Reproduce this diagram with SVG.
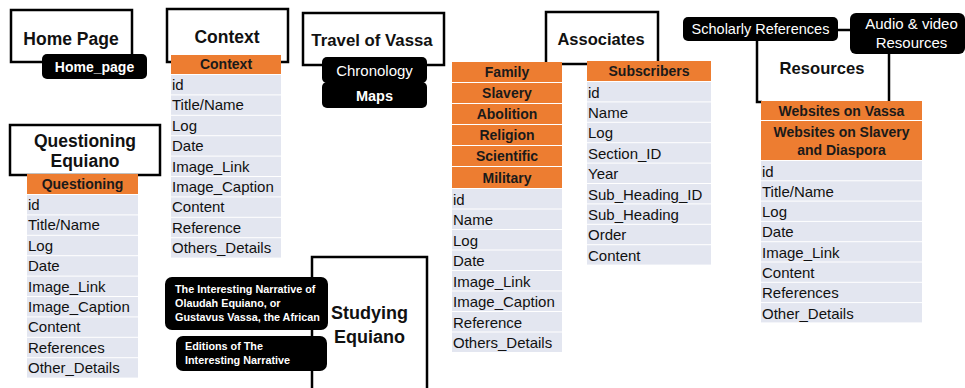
<svg xmlns="http://www.w3.org/2000/svg" width="965" height="388" viewBox="0 0 965 388">
<style>
.box{fill:#fff;stroke:#000;stroke-width:2.5}
.pill{fill:#000}
.hd{fill:#ed7d31}
.row{fill:#e3e6f0}
.title{font-family:"Liberation Sans",Arial,sans-serif;font-weight:bold;fill:#111;text-anchor:middle}
.ht{font-family:"Liberation Sans",Arial,sans-serif;font-weight:bold;font-size:14px;fill:#1a1a1a;text-anchor:middle}
.rt{font-family:"Liberation Sans",Arial,sans-serif;font-size:15px;fill:#111}
.pt{font-family:"Liberation Sans",Arial,sans-serif;fill:#fff;text-anchor:middle}
.st{font-family:"Liberation Sans",Arial,sans-serif;font-weight:bold;font-size:10.8px;fill:#fff}
.ln{fill:none;stroke:#000;stroke-width:2.5}
</style>
<rect width="965" height="388" fill="#fff"/>

<g id="home-page">
<rect class="box" x="11" y="10" width="121" height="52"/>
<text class="title" x="71" y="45" font-size="17.5">Home Page</text>
<rect class="pill" x="42" y="54" width="105" height="25" rx="5"/>
<text class="pt" x="94.5" y="71.5" font-size="14" font-weight="bold">Home_page</text>
</g>

<g id="context">
<rect class="box" x="167" y="9" width="121" height="53"/>
<text class="title" x="227" y="43" font-size="17.5">Context</text>
<rect class="hd" x="171" y="55" width="110" height="19"/>
<text class="ht" x="226" y="69">Context</text>
<rect class="row" x="171" y="75" width="110" height="19.4"/>
<rect class="row" x="171" y="95.4" width="110" height="19.4"/>
<rect class="row" x="171" y="115.8" width="110" height="19.4"/>
<rect class="row" x="171" y="136.2" width="110" height="19.4"/>
<rect class="row" x="171" y="156.6" width="110" height="19.4"/>
<rect class="row" x="171" y="177" width="110" height="19.4"/>
<rect class="row" x="171" y="197.4" width="110" height="19.4"/>
<rect class="row" x="171" y="217.8" width="110" height="19.4"/>
<rect class="row" x="171" y="238.2" width="110" height="19.4"/>
<text class="rt" x="172" y="90">id</text>
<text class="rt" x="172" y="110.4">Title/Name</text>
<text class="rt" x="172" y="130.8">Log</text>
<text class="rt" x="172" y="151.2">Date</text>
<text class="rt" x="172" y="171.6">Image_Link</text>
<text class="rt" x="172" y="192">Image_Caption</text>
<text class="rt" x="172" y="212.4">Content</text>
<text class="rt" x="172" y="232.8">Reference</text>
<text class="rt" x="172" y="253.2">Others_Details</text>
</g>

<g id="questioning-equiano">
<rect class="box" x="10" y="125" width="150" height="50"/>
<text class="title" x="85" y="147" font-size="17.5">Questioning</text>
<text class="title" x="85" y="167" font-size="17.5">Equiano</text>
<rect class="hd" x="27" y="174" width="111" height="20"/>
<text class="ht" x="82.5" y="189">Questioning</text>
<rect class="row" x="27" y="195" width="111" height="19.4"/>
<rect class="row" x="27" y="215.4" width="111" height="19.4"/>
<rect class="row" x="27" y="235.8" width="111" height="19.4"/>
<rect class="row" x="27" y="256.2" width="111" height="19.4"/>
<rect class="row" x="27" y="276.6" width="111" height="19.4"/>
<rect class="row" x="27" y="297" width="111" height="19.4"/>
<rect class="row" x="27" y="317.4" width="111" height="19.4"/>
<rect class="row" x="27" y="337.8" width="111" height="19.4"/>
<rect class="row" x="27" y="358.2" width="111" height="19.4"/>
<text class="rt" x="28" y="210">id</text>
<text class="rt" x="28" y="230.4">Title/Name</text>
<text class="rt" x="28" y="250.8">Log</text>
<text class="rt" x="28" y="271.2">Date</text>
<text class="rt" x="28" y="291.6">Image_Link</text>
<text class="rt" x="28" y="312">Image_Caption</text>
<text class="rt" x="28" y="332.4">Content</text>
<text class="rt" x="28" y="352.8">References</text>
<text class="rt" x="28" y="373.2">Other_Details</text>
</g>

<g id="travel-of-vassa">
<rect class="box" x="303" y="13" width="141" height="52"/>
<text class="title" x="372" y="46" font-size="16.8">Travel of Vassa</text>
<rect class="pill" x="322" y="57" width="105" height="26" rx="5"/>
<rect class="pill" x="322" y="82" width="105" height="26" rx="5"/>
<text class="pt" x="374.5" y="76" font-size="15">Chronology</text>
<text class="pt" x="374.5" y="101" font-size="14.5" font-weight="bold">Maps</text>
</g>

<g id="associates">
<rect class="box" x="546" y="12" width="112" height="52"/>
<text class="title" x="601" y="45" font-size="16.5">Associates</text>
<rect class="hd" x="452" y="62" width="110" height="20"/>
<rect class="hd" x="452" y="83" width="110" height="20"/>
<rect class="hd" x="452" y="104" width="110" height="20"/>
<rect class="hd" x="452" y="125" width="110" height="20"/>
<rect class="hd" x="452" y="146" width="110" height="20"/>
<rect class="hd" x="452" y="167" width="110" height="21"/>
<text class="ht" x="507" y="77">Family</text>
<text class="ht" x="507" y="98">Slavery</text>
<text class="ht" x="507" y="119">Abolition</text>
<text class="ht" x="507" y="140">Religion</text>
<text class="ht" x="507" y="161">Scientific</text>
<text class="ht" x="507" y="182.5">Military</text>
<rect class="row" x="452" y="189" width="110" height="19.5"/>
<rect class="row" x="452" y="209.5" width="110" height="19.5"/>
<rect class="row" x="452" y="230" width="110" height="19.5"/>
<rect class="row" x="452" y="250.5" width="110" height="19.5"/>
<rect class="row" x="452" y="271" width="110" height="19.5"/>
<rect class="row" x="452" y="291.5" width="110" height="19.5"/>
<rect class="row" x="452" y="312" width="110" height="19.5"/>
<rect class="row" x="452" y="332.5" width="110" height="19.5"/>
<text class="rt" x="453" y="204.5">id</text>
<text class="rt" x="453" y="225">Name</text>
<text class="rt" x="453" y="245.5">Log</text>
<text class="rt" x="453" y="266">Date</text>
<text class="rt" x="453" y="286.5">Image_Link</text>
<text class="rt" x="453" y="307">Image_Caption</text>
<text class="rt" x="453" y="327.5">Reference</text>
<text class="rt" x="453" y="348">Others_Details</text>
<rect class="hd" x="587" y="61" width="124" height="20"/>
<text class="ht" x="649" y="76">Subscribers</text>
<rect class="row" x="587" y="82" width="124" height="19.4"/>
<rect class="row" x="587" y="102.4" width="124" height="19.4"/>
<rect class="row" x="587" y="122.8" width="124" height="19.4"/>
<rect class="row" x="587" y="143.2" width="124" height="19.4"/>
<rect class="row" x="587" y="163.6" width="124" height="19.4"/>
<rect class="row" x="587" y="184" width="124" height="19.4"/>
<rect class="row" x="587" y="204.4" width="124" height="19.4"/>
<rect class="row" x="587" y="224.8" width="124" height="19.4"/>
<rect class="row" x="587" y="245.2" width="124" height="19.4"/>
<text class="rt" x="588" y="97.5">id</text>
<text class="rt" x="588" y="117.9">Name</text>
<text class="rt" x="588" y="138.3">Log</text>
<text class="rt" x="588" y="158.7">Section_ID</text>
<text class="rt" x="588" y="179.1">Year</text>
<text class="rt" x="588" y="199.5">Sub_Heading_ID</text>
<text class="rt" x="588" y="219.9">Sub_Heading</text>
<text class="rt" x="588" y="240.3">Order</text>
<text class="rt" x="588" y="260.7">Content</text>
</g>

<g id="connectors">
<line class="ln" x1="838" y1="30" x2="851" y2="30"/>
<polyline class="ln" points="757,40 757,102 762,102"/>
<line class="ln" x1="889" y1="53" x2="889" y2="101"/>
</g>

<g id="resources">
<rect class="pill" x="683" y="17" width="155" height="24" rx="5"/>
<text class="pt" x="760.5" y="33.5" font-size="14.5">Scholarly References</text>
<rect class="pill" x="850" y="13" width="115" height="41" rx="6"/>
<text class="pt" x="911.5" y="29" font-size="15">Audio &amp; video</text>
<text class="pt" x="911.5" y="48" font-size="15">Resources</text>
<text class="title" x="822" y="74" font-size="16.6">Resources</text>
<rect class="hd" x="761" y="101" width="161" height="19"/>
<text class="ht" x="841.5" y="115.5">Websites on Vassa</text>
<rect class="hd" x="761" y="121" width="161" height="39"/>
<text class="ht" x="841.5" y="137">Websites on Slavery</text>
<text class="ht" x="841.5" y="155">and Diaspora</text>
<rect class="row" x="761" y="161" width="161" height="19.3"/>
<rect class="row" x="761" y="181.3" width="161" height="19.3"/>
<rect class="row" x="761" y="201.6" width="161" height="19.3"/>
<rect class="row" x="761" y="221.9" width="161" height="19.3"/>
<rect class="row" x="761" y="242.2" width="161" height="19.3"/>
<rect class="row" x="761" y="262.5" width="161" height="19.3"/>
<rect class="row" x="761" y="282.8" width="161" height="19.3"/>
<rect class="row" x="761" y="303.1" width="161" height="19.3"/>
<text class="rt" x="762" y="176.5">id</text>
<text class="rt" x="762" y="196.8">Title/Name</text>
<text class="rt" x="762" y="217.1">Log</text>
<text class="rt" x="762" y="237.4">Date</text>
<text class="rt" x="762" y="257.7">Image_Link</text>
<text class="rt" x="762" y="278">Content</text>
<text class="rt" x="762" y="298.3">References</text>
<text class="rt" x="762" y="318.6">Other_Details</text>
</g>

<g id="studying-equiano">
<rect class="box" x="312" y="257" width="115" height="140"/>
<text class="title" x="369.5" y="319" font-size="18">Studying</text>
<text class="title" x="369.5" y="343" font-size="18">Equiano</text>
<rect class="pill" x="165" y="277" width="163" height="53" rx="7"/>
<text class="st" x="175" y="293">The Interesting Narrative of</text>
<text class="st" x="175" y="307">Olaudah Equiano, or</text>
<text class="st" x="175" y="321">Gustavus Vassa, the African</text>
<rect class="pill" x="176" y="336" width="151" height="35" rx="7"/>
<text class="st" x="185" y="350">Editions of The</text>
<text class="st" x="185" y="364">Interesting Narrative</text>
</g>
</svg>
